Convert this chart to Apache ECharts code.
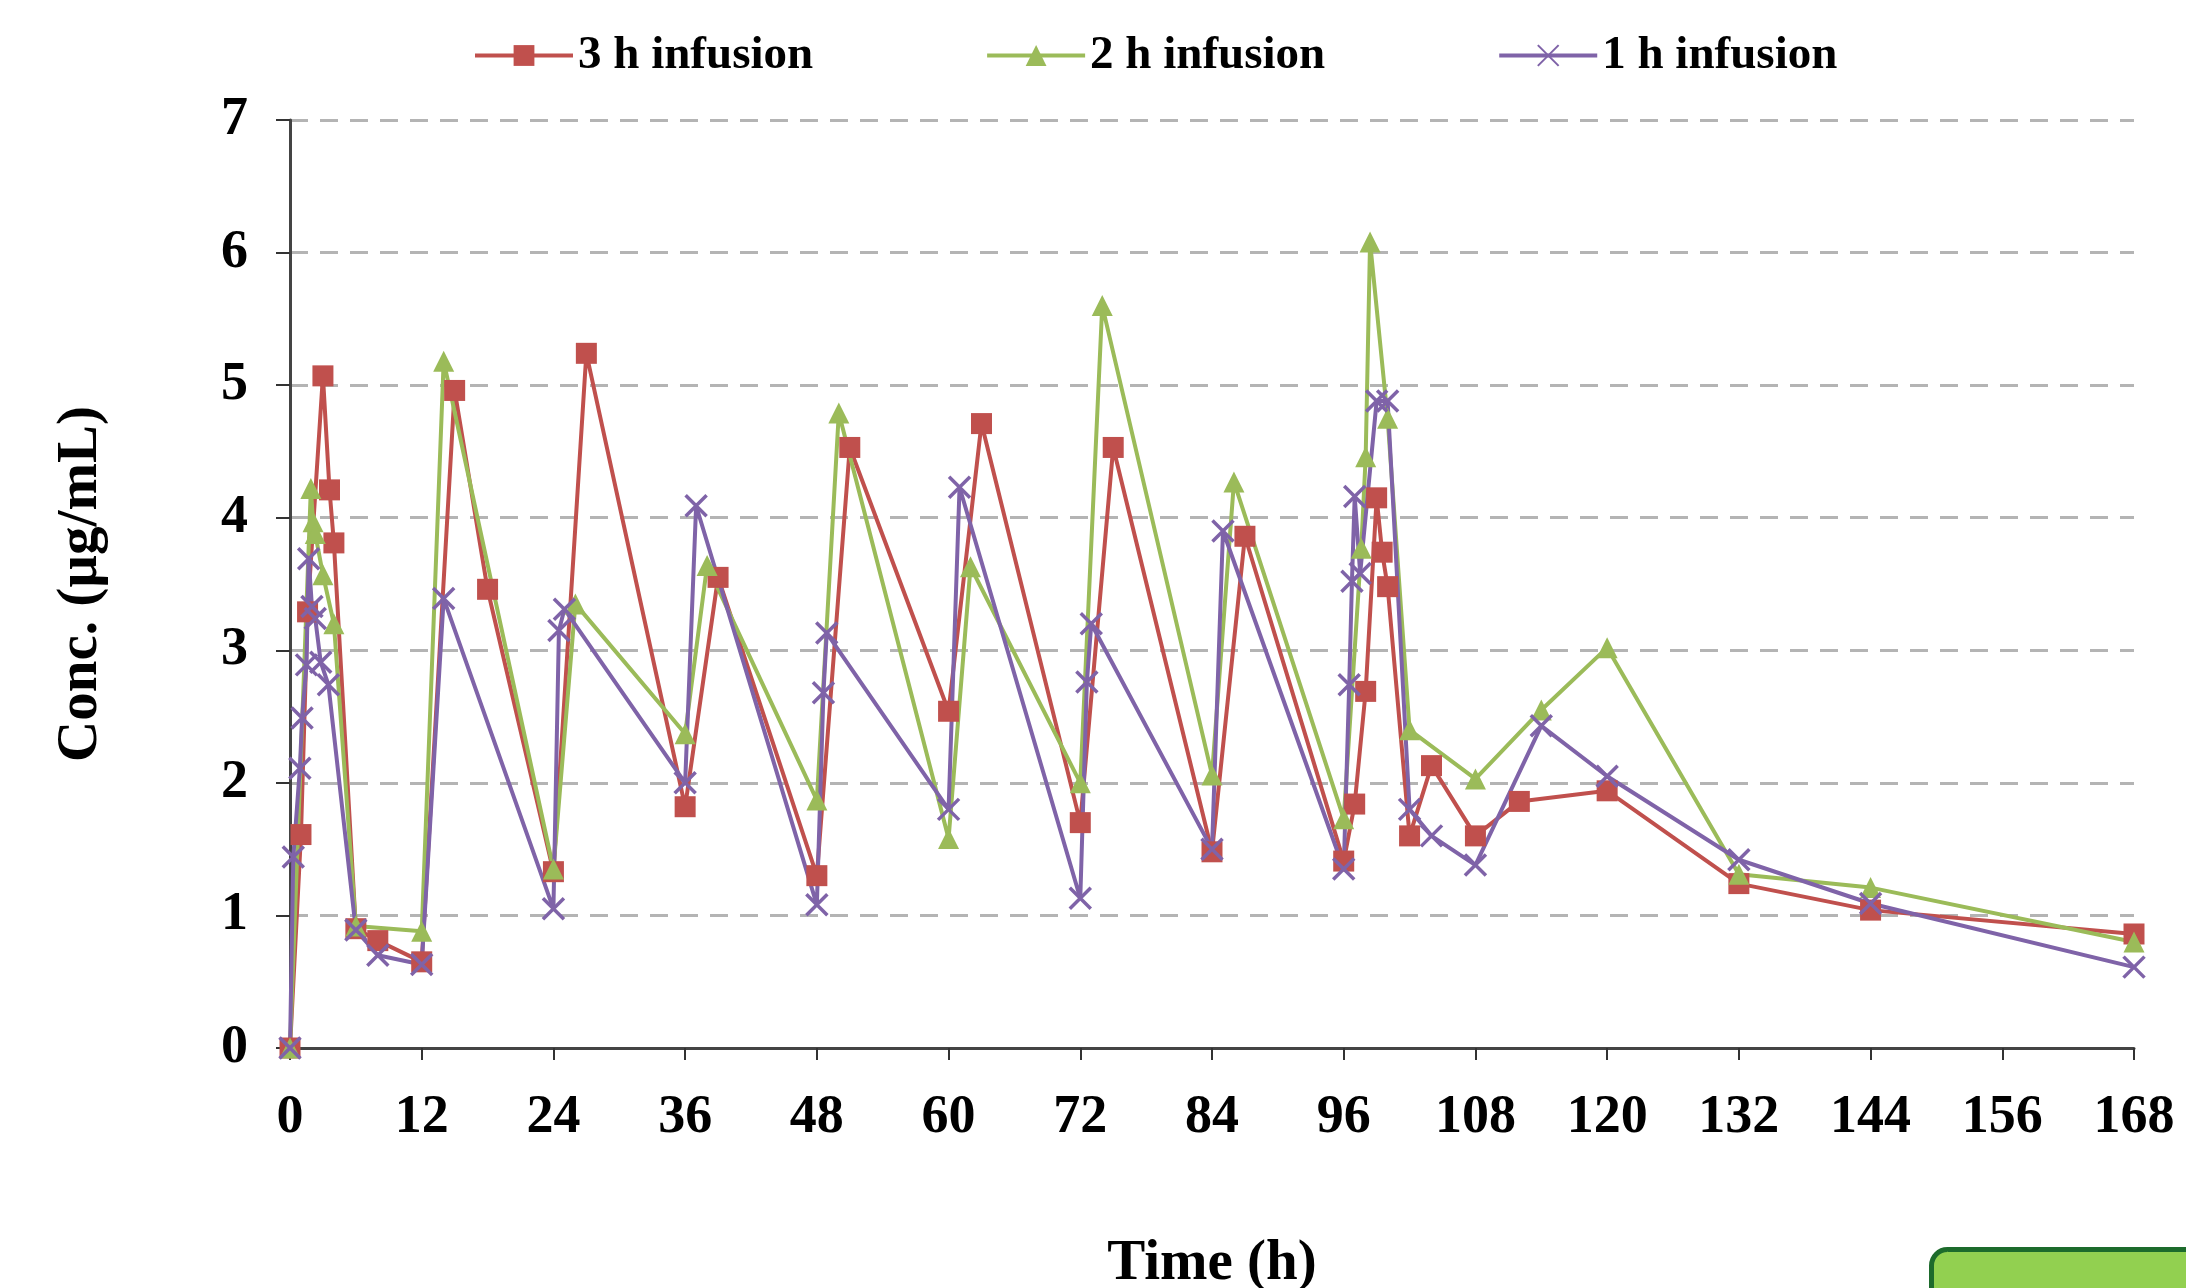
<!DOCTYPE html>
<html>
<head>
<meta charset="utf-8">
<script src="https://cdn.jsdelivr.net/npm/echarts@6/dist/echarts.min.js"></script>
<style>
  html, body { margin: 0; padding: 0; background: #fff; }
  #chart { width: 2186px; height: 1288px; }
</style>
</head>
<body>
<div id="chart"></div>
<script>
// 3 h infusion
const redTime = [0, 1, 1.6, 3, 3.6, 4, 6, 8, 12, 15, 18, 24, 27, 36, 39, 48, 51, 60, 63, 72, 75, 84, 87, 96, 97, 98, 99, 99.5, 100, 102, 104, 108, 112, 120, 132, 144, 168];
const redConc = [0, 1.61, 3.29, 5.07, 4.21, 3.81, 0.9, 0.81, 0.65, 4.96, 3.46, 1.33, 5.24, 1.82, 3.55, 1.3, 4.53, 2.54, 4.71, 1.7, 4.53, 1.48, 3.86, 1.41, 1.84, 2.69, 4.15, 3.74, 3.48, 1.6, 2.13, 1.6, 1.86, 1.94, 1.24, 1.04, 0.86];

// 2 h infusion
const greenTime = [0, 1.9, 2.1, 2.3, 3, 4, 6, 12, 14, 24, 26, 36, 38, 48, 50, 60, 62, 72, 74, 84, 86, 96, 97.6, 98, 98.4, 100, 102, 108, 114, 120, 132, 144, 168];
const greenConc = [0, 4.22, 3.97, 3.88, 3.57, 3.2, 0.92, 0.88, 5.18, 1.35, 3.35, 2.37, 3.64, 1.87, 4.79, 1.58, 3.63, 2.0, 5.6, 2.06, 4.27, 1.73, 3.77, 4.46, 6.08, 4.75, 2.4, 2.03, 2.55, 3.02, 1.31, 1.21, 0.8];

// 1 h infusion
const purpleTime = [0, 0.3, 0.9, 1.1, 1.5, 1.7, 2.0, 2.3, 2.8, 3.5, 6, 8, 12, 14, 24, 24.5, 25, 36, 37, 48, 48.6, 48.9, 60, 61, 72, 72.6, 73, 84, 85, 96, 96.5, 96.75, 97, 97.5, 99, 100, 102, 104, 108, 114, 120, 132, 144, 168];
const purpleConc = [0, 1.44, 2.11, 2.49, 2.89, 3.69, 3.33, 3.24, 2.91, 2.74, 0.89, 0.7, 0.63, 3.39, 1.05, 3.15, 3.31, 2.0, 4.09, 1.08, 2.68, 3.13, 1.8, 4.23, 1.13, 2.76, 3.2, 1.5, 3.9, 1.35, 2.74, 3.52, 4.16, 3.58, 4.88, 4.88, 1.8, 1.6, 1.38, 2.43, 2.05, 1.42, 1.09, 0.61];

const seriesNames = ['3 h infusion', '2 h infusion', '1 h infusion'];
const xTicks = [0, 12, 24, 36, 48, 60, 72, 84, 96, 108, 120, 132, 144, 156, 168];
const yTicks = [0, 1, 2, 3, 4, 5, 6, 7];

const FONT = "'Liberation Serif', 'Times New Roman', serif";
const RED = '#c0504d', GREEN = '#9bbb59', PURPLE = '#7f63a8';
const CROSS = 'path://M0,0L10,10M10,0L0,10';

function pairs(t, c) {
    return t.map((x, i) => [x, c[i]]);
}

function lineSeries(name, t, c, color, symbol, size, extra) {
    return Object.assign({
        name: name,
        type: 'line',
        data: pairs(t, c),
        symbol: symbol,
        symbolSize: size,
        showAllSymbol: true,
        lineStyle: { color: color, width: 4 },
        itemStyle: { color: color },
        z: 3
    }, extra || {});
}

const chart = echarts.init(document.getElementById('chart'));
chart.setOption({
    animation: false,
    backgroundColor: '#fff',
    textStyle: { fontFamily: FONT },
    legend: {
        left: 468,
        top: 27,
        itemWidth: 98,
        itemHeight: 26,
        itemGap: 172,
        lineStyle: { width: 4 },
        textStyle: { fontFamily: FONT, fontWeight: 'bold', fontSize: 47, color: '#000' },
        data: seriesNames
    },
    grid: { left: 290, right: 52, top: 120, bottom: 240, outerBoundsMode: 'none', containLabel: false },
    xAxis: {
        type: 'value',
        min: xTicks[0],
        max: xTicks[xTicks.length - 1],
        interval: 12,
        name: 'Time (h)',
        nameLocation: 'middle',
        nameGap: 188,
        nameTextStyle: { fontFamily: FONT, fontWeight: 'bold', fontSize: 57, color: '#000' },
        axisLine: { lineStyle: { color: '#444', width: 3 } },
        axisTick: { show: true, length: 12, lineStyle: { color: '#333', width: 2 } },
        axisLabel: { margin: 43, fontFamily: FONT, fontWeight: 'bold', fontSize: 54, color: '#000' },
        splitLine: { show: false }
    },
    yAxis: {
        type: 'value',
        min: yTicks[0],
        max: yTicks[yTicks.length - 1],
        interval: 1,
        name: 'Conc. (µg/mL)',
        nameLocation: 'middle',
        nameGap: 180,
        nameTextStyle: { fontFamily: FONT, fontWeight: 'bold', fontSize: 57, color: '#000' },
        axisLine: { show: true, lineStyle: { color: '#444', width: 3 } },
        axisTick: { show: true, length: 14, lineStyle: { color: '#333', width: 2 } },
        axisLabel: { margin: 42, fontFamily: FONT, fontWeight: 'bold', fontSize: 54, color: '#000' },
        splitLine: { show: true, lineStyle: { color: '#b4b4b4', width: 3, type: [18, 12] } }
    },
    series: [
        lineSeries(seriesNames[0], redTime, redConc, RED, 'rect', 21),
        lineSeries(seriesNames[1], greenTime, greenConc, GREEN, 'triangle', 21),
        lineSeries(seriesNames[2], purpleTime, purpleConc, PURPLE, CROSS, 21, {
            itemStyle: { color: PURPLE, borderColor: PURPLE, borderWidth: 3.5 }
        })
    ],
    graphic: [{
        type: 'rect',
        left: 1929,
        top: 1247,
        shape: { width: 300, height: 100, r: 16 },
        style: { fill: '#92d050', stroke: '#1d6b2c', lineWidth: 5 },
        silent: true
    }]
});
</script>
</body>
</html>
